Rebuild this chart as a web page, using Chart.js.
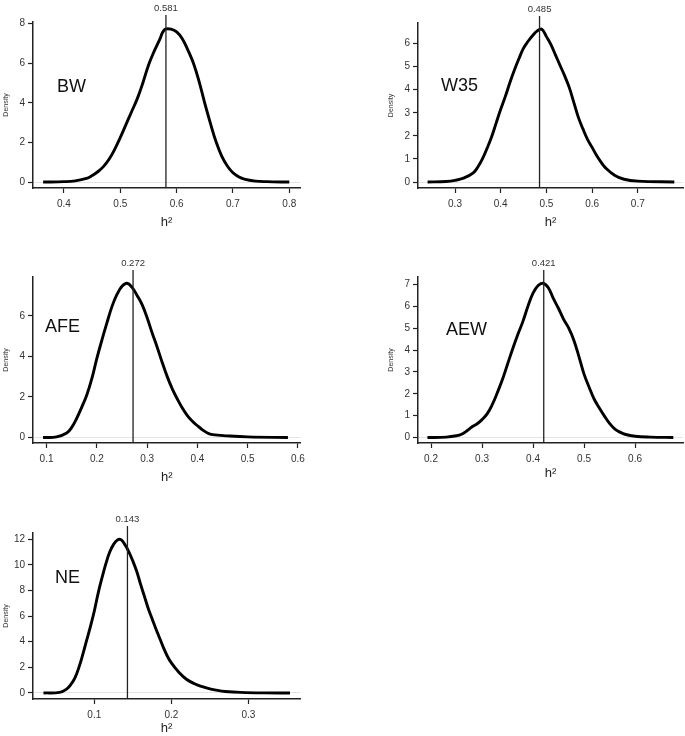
<!DOCTYPE html>
<html>
<head>
<meta charset="utf-8">
<script src="https://cdn.jsdelivr.net/npm/chart.js@4.4.1/dist/chart.umd.min.js"></script>
<style>
  html, body { margin: 0; padding: 0; background: #fff; }
  #page { position: relative; width: 685px; height: 736px; overflow: hidden; }
  #page canvas { position: absolute; }
</style>
</head>
<body>
<div id="page">
  <canvas id="chart-bw"></canvas>
  <canvas id="chart-w35"></canvas>
  <canvas id="chart-afe"></canvas>
  <canvas id="chart-aew"></canvas>
  <canvas id="chart-ne"></canvas>
</div>
<script>
// Trait names and posterior estimates of h2
const traitNames = ['BW', 'W35', 'AFE', 'AEW', 'NE'];
const estimates = [0.581, 0.485, 0.272, 0.421, 0.143];

// Density curves
const bwX = [0.363, 0.40, 0.42, 0.44, 0.45, 0.46, 0.47, 0.48, 0.49, 0.50, 0.51, 0.52, 0.53, 0.54, 0.55, 0.56, 0.57, 0.575, 0.58, 0.59,
  0.60, 0.61, 0.62, 0.63, 0.64, 0.65, 0.66, 0.67, 0.68, 0.69, 0.70, 0.71, 0.72, 0.74, 0.76, 0.80];
const bwY = [0, 0.02, 0.06, 0.18, 0.33, 0.52, 0.78, 1.15, 1.65, 2.25, 2.9, 3.55, 4.2, 5.0, 5.9, 6.6, 7.2, 7.55, 7.72, 7.72,
  7.58, 7.24, 6.66, 5.98, 5.06, 3.97, 2.96, 2.03, 1.31, 0.81, 0.47, 0.27, 0.15, 0.05, 0.02, 0];

const w35X = [0.24, 0.28, 0.30, 0.32, 0.34, 0.35, 0.36, 0.37, 0.38, 0.39, 0.40, 0.41, 0.42, 0.43, 0.44, 0.45, 0.46, 0.47, 0.48, 0.49,
  0.50, 0.51, 0.52, 0.53, 0.54, 0.55, 0.56, 0.57, 0.58, 0.59, 0.60, 0.61, 0.62, 0.63, 0.65, 0.67, 0.70, 0.78];
const w35Y = [0, 0.02, 0.07, 0.18, 0.4, 0.65, 1.0, 1.45, 1.95, 2.55, 3.15, 3.7, 4.3, 4.85, 5.35, 5.8, 6.1, 6.35, 6.55, 6.62,
  6.3, 5.95, 5.5, 5.05, 4.6, 4.1, 3.45, 2.8, 2.3, 1.85, 1.5, 1.15, 0.85, 0.6, 0.28, 0.12, 0.04, 0];

const afeX = [0.093, 0.12, 0.14, 0.15, 0.16, 0.17, 0.18, 0.19, 0.20, 0.21, 0.22, 0.23, 0.24, 0.25, 0.26, 0.27, 0.28, 0.29,
  0.30, 0.31, 0.32, 0.33, 0.34, 0.35, 0.36, 0.37, 0.38, 0.39, 0.40, 0.41, 0.42, 0.43, 0.46, 0.50, 0.58];
const afeY = [0, 0.03, 0.22, 0.5, 0.95, 1.5, 2.1, 2.9, 3.9, 4.8, 5.65, 6.45, 7.05, 7.45, 7.6, 7.4, 7.0, 6.55,
  5.9, 5.15, 4.45, 3.7, 3.0, 2.4, 1.9, 1.45, 1.08, 0.8, 0.58, 0.38, 0.22, 0.14, 0.08, 0.03, 0];

const aewX = [0.193, 0.23, 0.25, 0.26, 0.27, 0.28, 0.29, 0.30, 0.31, 0.32, 0.33, 0.34, 0.35, 0.36, 0.37, 0.38, 0.39, 0.40,
  0.41, 0.42, 0.43, 0.44, 0.45, 0.46, 0.47, 0.48, 0.49, 0.50, 0.51, 0.52, 0.53, 0.54, 0.55, 0.56, 0.57, 0.58, 0.60, 0.63, 0.675];
const aewY = [0, 0.02, 0.08, 0.15, 0.3, 0.48, 0.62, 0.82, 1.08, 1.5, 2.05, 2.65, 3.35, 4.05, 4.7, 5.3, 6.0, 6.6,
  6.95, 7.05, 6.85, 6.35, 5.9, 5.4, 5.0, 4.45, 3.7, 2.9, 2.3, 1.75, 1.35, 0.98, 0.65, 0.4, 0.25, 0.15, 0.06, 0.02, 0];

const neX = [0.034, 0.055, 0.064, 0.07, 0.075, 0.08, 0.085, 0.09, 0.095, 0.10, 0.105, 0.11, 0.115, 0.12, 0.125, 0.13, 0.135,
  0.14, 0.145, 0.15, 0.155, 0.16, 0.165, 0.17, 0.175, 0.18, 0.185, 0.19, 0.195, 0.20, 0.21, 0.22, 0.23, 0.24, 0.25, 0.26,
  0.27, 0.29, 0.32, 0.354];
const neY = [0, 0.05, 0.3, 0.7, 1.2, 2.0, 3.0, 4.1, 5.2, 6.4, 7.8, 9.0, 10.1, 11.0, 11.6, 11.95, 11.95,
  11.55, 11.0, 10.3, 9.5, 8.5, 7.55, 6.6, 5.8, 5.0, 4.25, 3.5, 2.85, 2.35, 1.6, 1.05, 0.72, 0.5, 0.32, 0.2,
  0.12, 0.05, 0.01, 0];

// Tick values
const bwXTicks = [0.4, 0.5, 0.6, 0.7, 0.8];
const bwYTicks = [0, 2, 4, 6, 8];
const w35XTicks = [0.3, 0.4, 0.5, 0.6, 0.7];
const w35YTicks = [0, 1, 2, 3, 4, 5, 6];
const afeXTicks = [0.1, 0.2, 0.3, 0.4, 0.5, 0.6];
const afeYTicks = [0, 2, 4, 6];
const aewXTicks = [0.2, 0.3, 0.4, 0.5, 0.6];
const aewYTicks = [0, 1, 2, 3, 4, 5, 6, 7];
const neXTicks = [0.1, 0.2, 0.3];
const neYTicks = [0, 2, 4, 6, 8, 10, 12];

// Layout of each panel (canvas box, axis ranges, label offsets)
const panels = [
  { id: 'chart-bw', xs: bwX, ys: bwY, xTicks: bwXTicks, yTicks: bwYTicks,
    left: 0, top: 0, w: 310, h: 230, padTop: 22, padRight: 10, xH: 42,
    xMin: 0.345, xMax: 0.819, yMin: -0.30, yMax: 8.08, dx: 24, dy: 65 },
  { id: 'chart-w35', xs: w35X, ys: w35Y, xTicks: w35XTicks, yTicks: w35YTicks,
    left: 385, top: 0, w: 300, h: 230, padTop: 23, padRight: 2, xH: 42,
    xMin: 0.219, xMax: 0.799, yMin: -0.26, yMax: 6.89, dx: 23, dy: 63 },
  { id: 'chart-afe', xs: afeX, ys: afeY, xTicks: afeXTicks, yTicks: afeYTicks,
    left: 0, top: 250, w: 310, h: 235, padTop: 27, padRight: 8, xH: 42,
    xMin: 0.073, xMax: 0.605, yMin: -0.27, yMax: 7.91, dx: 12, dy: 50 },
  { id: 'chart-aew', xs: aewX, ys: aewY, xTicks: aewXTicks, yTicks: aewYTicks,
    left: 385, top: 250, w: 300, h: 231, padTop: 27, padRight: 2, xH: 38,
    xMin: 0.1745, xMax: 0.694, yMin: -0.25, yMax: 7.34, dx: 28, dy: 53 },
  { id: 'chart-ne', xs: neX, ys: neY, xTicks: neXTicks, yTicks: neYTicks,
    left: 0, top: 500, w: 310, h: 236, padTop: 33, padRight: 10, xH: 37,
    xMin: 0.0204, xMax: 0.367, yMin: -0.47, yMax: 12.49, dx: 22, dy: 45 }
];

const FONT = '"Liberation Sans", Arial, sans-serif';
Chart.defaults.font.family = FONT;
Chart.defaults.color = '#333';

// Vertical estimate line, its value on top, and the trait name
const markerPlugin = {
  id: 'marker',
  afterDatasetsDraw(chart, args, opts) {
    const { ctx, chartArea, scales } = chart;
    const x = scales.x.getPixelForValue(opts.value);
    ctx.save();
    ctx.strokeStyle = '#222';
    ctx.lineWidth = 1.3;
    ctx.beginPath();
    ctx.moveTo(x, chartArea.bottom);
    ctx.lineTo(x, chartArea.top - 7);
    ctx.stroke();
    ctx.fillStyle = '#333';
    ctx.font = '9.5px ' + FONT;
    ctx.textAlign = 'center';
    ctx.textBaseline = 'middle';
    ctx.fillText(opts.value.toFixed(3), x, chartArea.top - 14);
    ctx.fillStyle = '#111';
    ctx.font = '18px ' + FONT;
    ctx.textAlign = 'left';
    ctx.fillText(opts.name, chartArea.left + opts.dx, chartArea.top + opts.dy);
    ctx.restore();
  }
};

function drawPanel(p, i) {
  const canvas = document.getElementById(p.id);
  canvas.width = p.w;
  canvas.height = p.h;
  canvas.style.left = p.left + 'px';
  canvas.style.top = p.top + 'px';

  new Chart(canvas, {
    type: 'scatter',
    data: {
      datasets: [{
        data: p.xs.map((x, k) => ({ x: x, y: p.ys[k] })),
        showLine: true,
        borderColor: '#000',
        borderWidth: 2.9,
        pointRadius: 0,
        tension: 0.4
      }]
    },
    options: {
      responsive: false,
      animation: false,
      devicePixelRatio: 1,
      layout: { padding: { top: p.padTop, right: p.padRight, left: 0, bottom: 0 } },
      plugins: {
        legend: { display: false },
        tooltip: { enabled: false },
        marker: { value: estimates[i], name: traitNames[i], dx: p.dx, dy: p.dy }
      },
      scales: {
        x: {
          type: 'linear',
          min: p.xMin,
          max: p.xMax,
          afterBuildTicks: s => { s.ticks = p.xTicks.map(v => ({ value: v })); },
          afterFit: s => { s.height = p.xH; },
          ticks: { font: { size: 10 }, padding: 5, maxRotation: 0, callback: v => String(+v.toFixed(2)) },
          grid: { color: 'transparent', drawTicks: true, tickLength: 5, tickColor: '#222', tickWidth: 1.2 },
          border: { display: true, color: '#222', width: 1.5 },
          title: { display: true, text: 'h²', font: { size: 13 }, color: '#222', padding: 0 }
        },
        y: {
          type: 'linear',
          min: p.yMin,
          max: p.yMax,
          afterBuildTicks: s => { s.ticks = p.yTicks.map(v => ({ value: v })); },
          afterFit: s => { s.width = 33; },
          ticks: { font: { size: 10 }, padding: 3, callback: v => String(v) },
          grid: {
            color: c => (c.tick && c.tick.value === 0 ? '#e4e4e4' : 'transparent'),
            lineWidth: 1,
            drawTicks: true, tickLength: 5, tickColor: '#222', tickWidth: 1.2
          },
          border: { display: true, color: '#222', width: 1.5 },
          title: { display: true, text: 'Density', font: { size: 7 }, color: '#333', padding: { top: 2, bottom: 0 } }
        }
      }
    },
    plugins: [markerPlugin]
  });
}

panels.forEach(drawPanel);
</script>
</body>
</html>
